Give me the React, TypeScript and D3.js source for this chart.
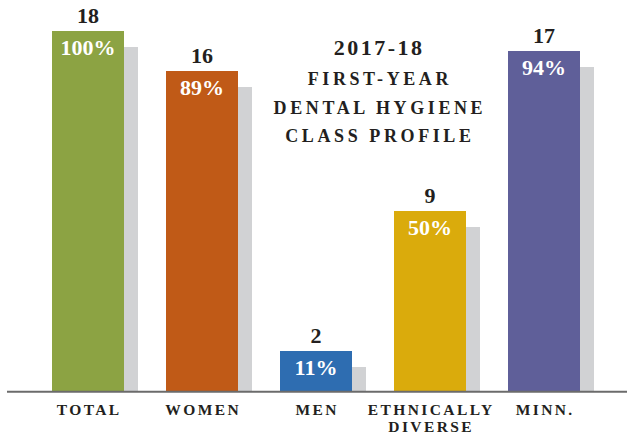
import React from "react";
import * as d3 from "d3";

const categories = ["TOTAL", "WOMEN", "MEN", "ETHNICALLY DIVERSE", "MINN."];
const labelLines = [["TOTAL"], ["WOMEN"], ["MEN"], ["ETHNICALLY", "DIVERSE"], ["MINN."]];
const counts = [18, 16, 2, 9, 17];
const percents = ["100%", "89%", "11%", "50%", "94%"];
const colors = ["#8ca343", "#c05a17", "#2e6db1", "#daab0c", "#5f5f99"];
const titleLines = ["2017-18", "FIRST-YEAR", "DENTAL HYGIENE", "CLASS PROFILE"];

const W = 627;
const H = 434;
const FONT = "'Liberation Serif', 'Times New Roman', serif";

export default function App() {
  const x = d3
    .scaleBand<string>()
    .domain(categories)
    .range([52, 52 + 4 * 114 + 72])
    .paddingInner(42 / 114)
    .paddingOuter(0);
  const y = d3.scaleLinear().domain([0, 18]).range([391, 31]);
  const bw = x.bandwidth();
  const shadowW = 14;
  const shadowDrop = 16;

  return (
    <svg
      width={W}
      height={H}
      style={{ position: "absolute", left: 0, top: 0, background: "#fff" }}
      fontFamily={FONT}
    >
      {categories.map((c, i) => {
        const x0 = x(c)!;
        const top = y(counts[i]);
        return (
          <g key={c}>
            <rect
              x={x0 + bw}
              y={top + shadowDrop}
              width={shadowW}
              height={y(0) - top - shadowDrop}
              fill="#d1d2d4"
            />
            <rect x={x0} y={top} width={bw} height={y(0) - top} fill={colors[i]} />
            <text
              x={x0 + bw / 2}
              y={top - 8}
              textAnchor="middle"
              fontSize={22}
              fontWeight="bold"
              fill="#231f20"
            >
              {counts[i]}
            </text>
            <text
              x={x0 + bw / 2}
              y={top + 24}
              textAnchor="middle"
              fontSize={22}
              fontWeight="bold"
              fill="#ffffff"
            >
              {percents[i]}
            </text>
            {labelLines[i].map((ln, j) => (
              <text
                key={ln}
                x={x0 + bw / 2 + 1.2}
                y={415 + j * 17}
                textAnchor="middle"
                fontSize={15.5}
                fontWeight="bold"
                letterSpacing={2.4}
                fill="#231f20"
              >
                {ln}
              </text>
            ))}
          </g>
        );
      })}
      <line x1={7} x2={627} y1={391.7} y2={391.7} stroke="#6b6b6b" strokeWidth={2} />
      {titleLines.map((t, i) => (
        <text
          key={t}
          x={378 + (i === 0 ? 1.2 : 1.9)}
          y={i === 0 ? 55 : 85 + (i - 1) * 28.5}
          textAnchor="middle"
          fontSize={i === 0 ? 22 : 18}
          fontWeight="bold"
          letterSpacing={i === 0 ? 2.5 : 3.6}
          fill="#231f20"
        >
          {t}
        </text>
      ))}
    </svg>
  );
}
